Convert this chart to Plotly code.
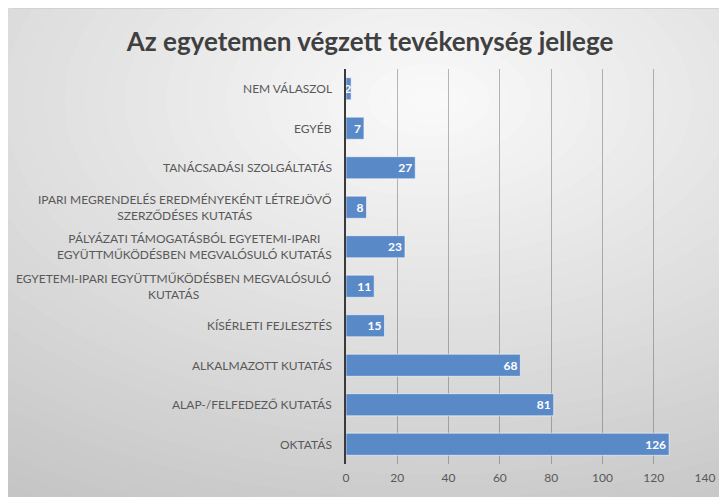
import plotly.graph_objects as go

# ---- data ----
categories = [
    "OKTATÁS",
    "ALAP-/FELFEDEZŐ KUTATÁS",
    "ALKALMAZOTT KUTATÁS",
    "KÍSÉRLETI FEJLESZTÉS",
    "EGYETEMI-IPARI EGYÜTTMŰKÖDÉSBEN MEGVALÓSULÓ<br>KUTATÁS",
    "PÁLYÁZATI TÁMOGATÁSBÓL EGYETEMI-IPARI<br>EGYÜTTMŰKÖDÉSBEN MEGVALÓSULÓ KUTATÁS",
    "IPARI MEGRENDELÉS EREDMÉNYEKÉNT LÉTREJÖVŐ<br>SZERZŐDÉSES KUTATÁS",
    "TANÁCSADÁSI SZOLGÁLTATÁS",
    "EGYÉB",
    "NEM VÁLASZOL",
]
values = [126, 81, 68, 15, 11, 23, 8, 27, 7, 2]
x_ticks = [0, 20, 40, 60, 80, 100, 120, 140]
title_text = "Az egyetemen végzett tevékenység jellege"

# ---- layout geometry (pixels, figure coords; page body adds an 8px offset) ----
OFF = 8
W, H = 719, 489
L, R, T, B = 338, 17, 61, 33
pw, ph = W - L - R, H - T - B


def sx2paper(sx):
    return (sx - OFF - L) / pw


def sy2paper(sy):
    return (H - B - (sy - OFF)) / ph


FONT = "Lato"

fig = go.Figure()
fig.add_trace(go.Bar(
    y=categories,
    x=values,
    orientation="h",
    marker=dict(color="#5A89C8", line=dict(color="rgba(255,255,255,0.55)", width=1)),
    text=[str(v) for v in values],
    textposition="inside",
    insidetextanchor="end",
    textfont=dict(family=FONT, size=12, color="white", weight="bold"),
    cliponaxis=False,
    showlegend=False,
))

# background radial-ish gradient built from concentric ellipses (screen coords)
shapes = []
cx, cy, A, Bv = 430, 100, 738, 435
N = 45
rmax = 1.25
for i in range(N, 0, -1):
    r = rmax * i / N
    g = int(round(max(190, min(250, 250 - 50 * (r - rmax / (2 * N))))))
    col = f"rgb({g},{g},{g})"
    shapes.append(dict(
        type="circle", xref="paper", yref="paper", layer="below",
        x0=sx2paper(cx - A * r), x1=sx2paper(cx + A * r),
        y0=sy2paper(cy + Bv * r), y1=sy2paper(cy - Bv * r),
        fillcolor=col, line=dict(width=0),
    ))
shapes.append(dict(type="line", xref="paper", yref="paper", layer="below",
                   x0=sx2paper(OFF), x1=sx2paper(OFF + W), y0=sy2paper(8.5), y1=sy2paper(8.5),
                   line=dict(color="#d2d2d2", width=1)))

annotations = []
for c in categories:
    annotations.append(dict(
        x=0, y=c, xref="x", yref="y", text=c, showarrow=False,
        xanchor="right", yanchor="middle", align="center", xshift=-12,
        font=dict(family=FONT, size=12, color="#595959"),
    ))

fig.update_layout(
    width=W, height=H,
    margin=dict(l=L, r=R, t=T, b=B, pad=0),
    paper_bgcolor="rgb(192,192,192)",
    plot_bgcolor="rgba(0,0,0,0)",
    bargap=0.44,
    shapes=shapes,
    annotations=annotations,
    uniformtext=dict(minsize=12, mode="show"),
    title=dict(text=title_text, x=(370 - OFF) / W, xanchor="center", xref="container",
               y=1 - (42 - OFF) / H, yanchor="middle",
               font=dict(family=FONT, size=26, color="#404040", weight="bold")),
    xaxis=dict(
        range=[0, 140], tickvals=x_ticks, ticktext=[str(t) for t in x_ticks],
        showgrid=True, gridcolor="rgba(70,70,70,0.38)", gridwidth=1,
        zeroline=False, showline=False, ticks="",
        ticklabelstandoff=5,
        tickfont=dict(family=FONT, size=12, color="#595959"),
        fixedrange=True,
    ),
    yaxis=dict(
        showticklabels=False, showgrid=False, zeroline=False,
        showline=True, linecolor="#3a3a3a", linewidth=2, ticks="",
        fixedrange=True,
    ),
)

fig.write_html("out.html")
